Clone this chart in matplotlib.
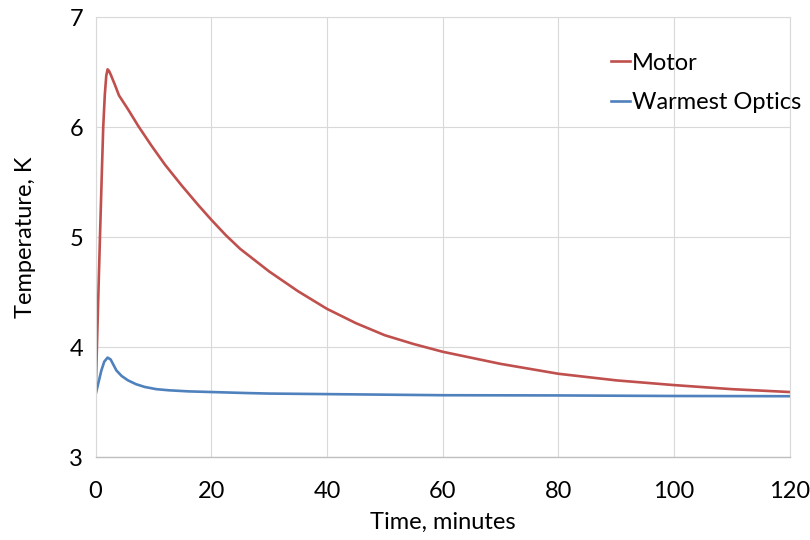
import matplotlib
matplotlib.use("Agg")
import matplotlib.pyplot as plt

plt.rcParams['font.family'] = ['Lato', 'DejaVu Sans']

# cooldown after the motor move, time in minutes
t_motor = [0, 0.4, 0.8, 1.1, 1.32, 1.6, 1.85, 2.08, 2.35, 2.65, 3.0, 3.35, 4.04,
           5.65, 7.4, 9.7, 12.0, 14.9, 17.8, 20, 22.5, 25, 30, 35, 40, 45, 50, 55,
           60, 70, 80, 90, 100, 110, 120]
motor = [3.55, 4.33, 5.08, 5.62, 6.0, 6.3, 6.47, 6.527, 6.51, 6.475, 6.43, 6.385, 6.29,
         6.16, 6.01, 5.83, 5.66, 5.47, 5.29, 5.16, 5.02, 4.895, 4.69, 4.51, 4.35, 4.22,
         4.11, 4.03, 3.96, 3.85, 3.76, 3.70, 3.657, 3.62, 3.594]

t_optics = [0, 0.5, 1.0, 1.5, 2.08, 2.6, 3.0, 3.6, 4.5, 5.6, 7.0, 8.5, 10.5, 12.6,
            16, 20, 25.9, 30, 40, 50, 60, 80, 100, 120]
optics = [3.57, 3.68, 3.79, 3.87, 3.907, 3.89, 3.85, 3.79, 3.74, 3.70, 3.665, 3.64,
          3.62, 3.61, 3.60, 3.594, 3.585, 3.58, 3.575, 3.57, 3.565, 3.563, 3.558, 3.556]

fig = plt.figure(figsize=(8.1, 5.4), dpi=100)
ax = fig.add_axes([0.118, 0.153, 0.857, 0.815])

ax.plot(t_motor, motor, color='#c0504d', lw=1.9, label='Motor')
ax.plot(t_optics, optics, color='#4f81bd', lw=1.9, label='Warmest Optics')

ax.set_xlim(0, 120)
ax.set_ylim(3, 7)
ax.set_xticks(range(0, 121, 20))
ax.set_yticks(range(3, 8))
ax.grid(True, color='#d9d9d9', lw=0.8)
ax.set_axisbelow(True)
for side in ['top', 'right', 'left']:
    ax.spines[side].set_color('#d9d9d9')
    ax.spines[side].set_linewidth(0.8)
ax.spines['bottom'].set_color('#bfbfbf')
ax.spines['bottom'].set_linewidth(1.0)
ax.tick_params(length=0, labelsize=17)
ax.tick_params(axis='x', pad=17)
ax.tick_params(axis='y', pad=9)

ax.set_xlabel('Time, minutes', fontsize=17, labelpad=7)
ax.set_ylabel('Temperature, K', fontsize=17, labelpad=24)

fig.legend(loc='upper left', bbox_to_anchor=(0.728, 0.942), frameon=False,
           fontsize=17, handlelength=0.8, handletextpad=0.1, labelspacing=0.78)

fig.savefig('out.png', dpi=100)
